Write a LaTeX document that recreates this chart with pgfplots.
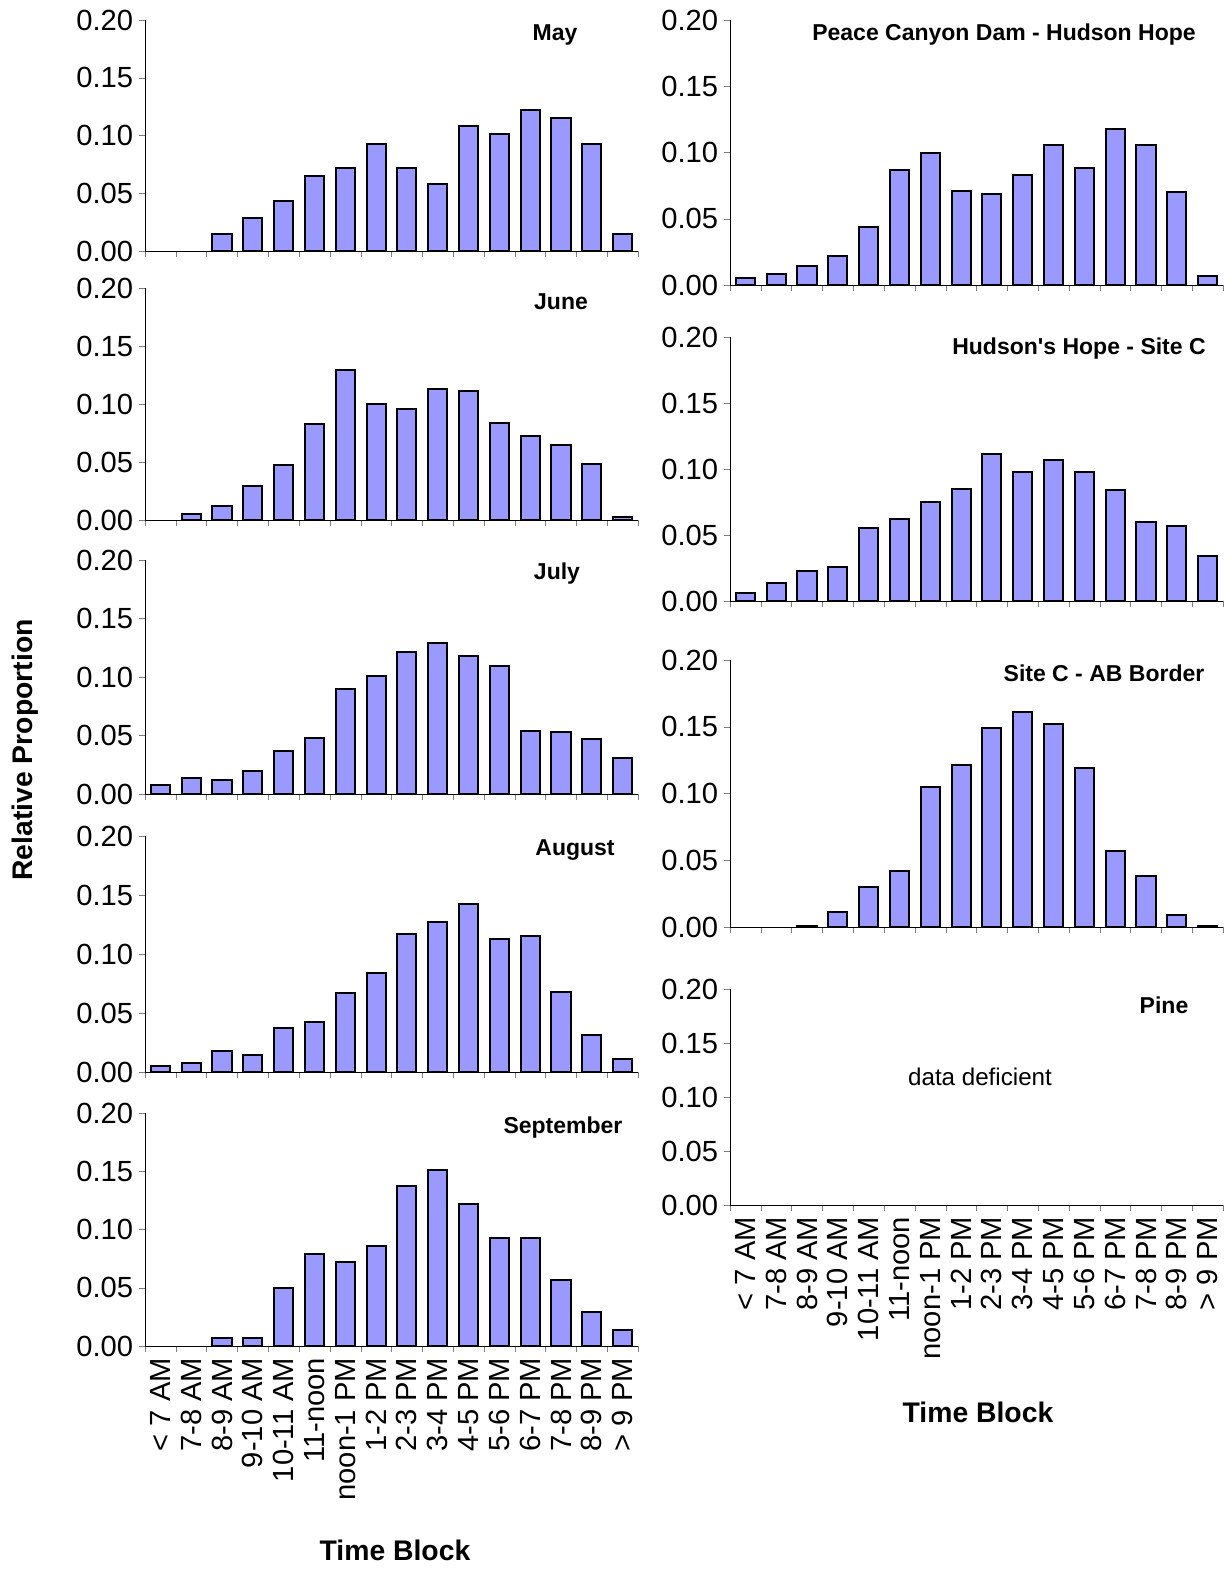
\documentclass[border=0pt]{standalone}
\usepackage{pgfplots}
\pgfplotsset{compat=1.18}
\usepackage{fontspec}
\setmainfont{Liberation Sans}
\definecolor{barc}{RGB}{153,153,255}
\def\px{0.6pt}
\pgfplotsset{
 panel/.style={scale only axis, width=493*\px, anchor=south west,
  axis x line*=bottom, axis y line*=left, xmin=-0.5, xmax=15.5, ymin=0, ymax=0.2,
  ytick={0,0.05,0.1,0.15,0.2}, yticklabel style={/pgf/number format/.cd,fixed,fixed zerofill,precision=2},
  /pgf/number format/assume math mode=true,
  ticklabel style={font=\fontsize{17.5pt}{19pt}\selectfont},
  tick align=outside, major tick length=6*\px, minor tick length=6*\px,
  xtick={0,...,15}, xticklabels={}, major x tick style={draw=none},
  minor xtick={-0.5,0.5,...,15.5},
  ybar, bar width=0.62, bar shift=0pt, clip=false,
  axis line style={line width=0.6pt}},
 labs/.style={xticklabels={{< 7 AM},{7-8 AM},{8-9 AM},{9-10 AM},{10-11 AM},{11-noon},{noon-1 PM},{1-2 PM},{2-3 PM},{3-4 PM},{4-5 PM},{5-6 PM},{6-7 PM},{7-8 PM},{8-9 PM},{> 9 PM}},
  xticklabel style={rotate=90, anchor=east}},
 bb/.style={fill=barc, draw=black, line width=1.2pt}
}
\begin{document}
\begin{tikzpicture}
\fill[white] (0,0) rectangle (1228*\px,-1571*\px);
\begin{axis}[panel, at={(145*\px,-251*\px)}, height=231*\px]
\addplot[bb] coordinates {(2,0.015)(3,0.029)(4,0.043)(5,0.065)(6,0.072)(7,0.093)(8,0.072)(9,0.058)(10,0.108)(11,0.101)(12,0.122)(13,0.115)(14,0.093)(15,0.015)};
\end{axis}
\begin{axis}[panel, at={(145*\px,-520*\px)}, height=232*\px]
\addplot[bb] coordinates {(1,0.005)(2,0.012)(3,0.029)(4,0.047)(5,0.083)(6,0.129)(7,0.1)(8,0.096)(9,0.113)(10,0.111)(11,0.084)(12,0.072)(13,0.065)(14,0.048)(15,0.003)};
\end{axis}
\begin{axis}[panel, at={(145*\px,-794*\px)}, height=234*\px]
\addplot[bb] coordinates {(0,0.008)(1,0.014)(2,0.012)(3,0.02)(4,0.037)(5,0.048)(6,0.09)(7,0.101)(8,0.121)(9,0.129)(10,0.118)(11,0.109)(12,0.054)(13,0.053)(14,0.047)(15,0.031)};
\end{axis}
\begin{axis}[panel, at={(145*\px,-1072*\px)}, height=236*\px]
\addplot[bb] coordinates {(0,0.005)(1,0.008)(2,0.018)(3,0.014)(4,0.037)(5,0.042)(6,0.067)(7,0.084)(8,0.117)(9,0.127)(10,0.142)(11,0.113)(12,0.115)(13,0.068)(14,0.031)(15,0.011)};
\end{axis}
\begin{axis}[panel, labs, at={(145*\px,-1346*\px)}, height=233*\px]
\addplot[bb] coordinates {(2,0.007)(3,0.007)(4,0.05)(5,0.079)(6,0.072)(7,0.086)(8,0.137)(9,0.151)(10,0.122)(11,0.093)(12,0.093)(13,0.057)(14,0.029)(15,0.014)};
\end{axis}
\begin{axis}[panel, at={(730*\px,-285*\px)}, height=265*\px]
\addplot[bb] coordinates {(0,0.005)(1,0.008)(2,0.014)(3,0.022)(4,0.044)(5,0.087)(6,0.1)(7,0.071)(8,0.069)(9,0.083)(10,0.106)(11,0.088)(12,0.118)(13,0.106)(14,0.07)(15,0.007)};
\end{axis}
\begin{axis}[panel, at={(730*\px,-601*\px)}, height=264*\px]
\addplot[bb] coordinates {(0,0.006)(1,0.014)(2,0.023)(3,0.026)(4,0.055)(5,0.062)(6,0.075)(7,0.085)(8,0.111)(9,0.098)(10,0.107)(11,0.098)(12,0.084)(13,0.06)(14,0.057)(15,0.034)};
\end{axis}
\begin{axis}[panel, at={(730*\px,-927*\px)}, height=267*\px]
\addplot[bb] coordinates {(2,0.001)(3,0.011)(4,0.03)(5,0.042)(6,0.105)(7,0.121)(8,0.149)(9,0.161)(10,0.152)(11,0.119)(12,0.057)(13,0.038)(14,0.009)(15,0.001)};
\end{axis}
\begin{axis}[panel, labs, at={(730*\px,-1205*\px)}, height=216*\px]
\addplot[draw=none,fill=none] coordinates {(0,0)};
\end{axis}
\tikzset{tt/.style={font=\bfseries\fontsize{13.8pt}{15pt}\selectfont}}
\node[tt] at (555*\px,-35*\px) {May};
\node[tt] at (561*\px,-302*\px) {June};
\node[tt] at (557*\px,-574*\px) {July};
\node[tt] at (575*\px,-850*\px) {August};
\node[tt] at (563*\px,-1128*\px) {September};
\node[tt] at (1004*\px,-35*\px) {Peace Canyon Dam - Hudson Hope};
\node[tt] at (1079*\px,-349*\px) {Hudson\textquotesingle s Hope - Site C};
\node[tt] at (1104*\px,-673*\px) {Site C - AB Border};
\node[tt] at (1164*\px,-1005*\px) {Pine};
\node[font=\fontsize{14.5pt}{16pt}\selectfont] at (980*\px,-1077*\px) {data deficient};
\node[font=\bfseries\fontsize{17pt}{19pt}\selectfont] at (395*\px,-1550*\px) {Time Block};
\node[font=\bfseries\fontsize{17pt}{19pt}\selectfont] at (978*\px,-1412*\px) {Time Block};
\node[font=\bfseries\fontsize{17pt}{19pt}\selectfont, rotate=90] at (25*\px,-750*\px) {Relative Proportion};
\end{tikzpicture}
\end{document}
